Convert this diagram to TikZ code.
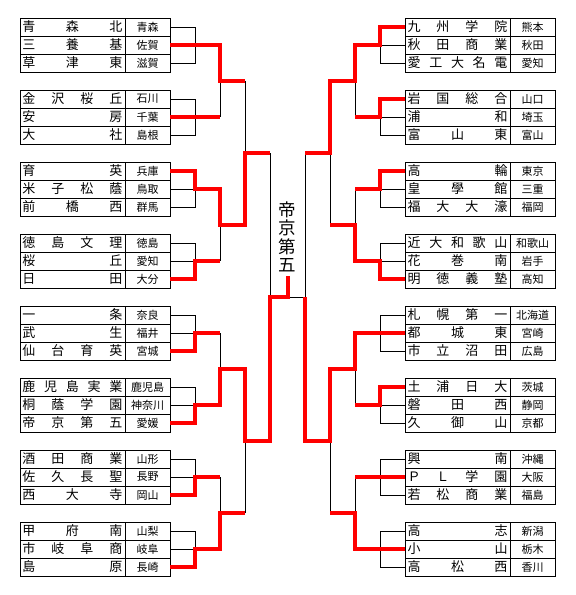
\documentclass[tikz,border=0pt]{standalone}
\usepackage{fontspec}
\newfontfamily\jpfont{Noto Sans CJK JP}
% Name gleichmaessig ueber die Zelle verteilen
\newcommand\spreadname[1]{\makebox[100pt]{\expandafter\spreadloop#1\relax}}
\def\spreadloop#1#2{#1\ifx#2\relax\else\hfill\expandafter\spreadloop\expandafter#2\fi}
\tikzset{
  namecell/.style={draw, line width=1pt, minimum width=105pt, minimum height=18pt, inner sep=0pt, outer sep=0pt, font=\jpfont\fontsize{13}{13}\selectfont},
  prefcell/.style={namecell, minimum width=45pt, font=\jpfont\fontsize{11}{11}\selectfont},
  wire/.style={line width=1pt},
  win/.style={draw=red, line width=4pt, line join=miter},
  champ/.style={align=center, inner sep=0pt, font=\jpfont\fontsize{17.5}{18.3}\selectfont}
}
\begin{document}
\begin{tikzpicture}[x=1pt, y=-1pt]
\useasboundingbox (0,0) rectangle (576,595);
% Tabelle links
\foreach \g/\r/\nm/\pf in {1/1/青森北/青森, 1/2/三養基/佐賀, 1/3/草津東/滋賀,
  2/1/金沢桜丘/石川, 2/2/安房/千葉, 2/3/大社/島根,
  3/1/育英/兵庫, 3/2/米子松蔭/鳥取, 3/3/前橋西/群馬,
  4/1/徳島文理/徳島, 4/2/桜丘/愛知, 4/3/日田/大分,
  5/1/一条/奈良, 5/2/武生/福井, 5/3/仙台育英/宮城,
  6/1/鹿児島実業/鹿児島, 6/2/桐蔭学園/神奈川, 6/3/帝京第五/愛媛,
  7/1/酒田商業/山形, 7/2/佐久長聖/長野, 7/3/西大寺/岡山,
  8/1/甲府南/山梨, 8/2/市岐阜商/岐阜, 8/3/島原/長崎}{
  \node[namecell] (Ln\g\r) at (72.5,{27+72*(\g-1)+18*(\r-1)}) {\spreadname{\nm}};
  \node[prefcell] (Lp\g\r) at (147.5,{27+72*(\g-1)+18*(\r-1)}) {\pf};
}
% Tabelle rechts
\foreach \g/\r/\nm/\pf in {1/1/九州学院/熊本, 1/2/秋田商業/秋田, 1/3/愛工大名電/愛知,
  2/1/岩国総合/山口, 2/2/浦和/埼玉, 2/3/富山東/富山,
  3/1/高輪/東京, 3/2/皇學館/三重, 3/3/福大大濠/福岡,
  4/1/近大和歌山/和歌山, 4/2/花巻南/岩手, 4/3/明徳義塾/高知,
  5/1/札幌第一/北海道, 5/2/都城東/宮崎, 5/3/市立沼田/広島,
  6/1/土浦日大/茨城, 6/2/磐田西/静岡, 6/3/久御山/京都,
  7/1/興南/沖縄, 7/2/ＰＬ学園/大阪, 7/3/若松商業/福島,
  8/1/高志/新潟, 8/2/小山/栃木, 8/3/高松西/香川}{
  \node[namecell] (Rn\g\r) at (457.5,{27+72*(\g-1)+18*(\r-1)}) {\spreadname{\nm}};
  \node[prefcell] (Rp\g\r) at (532.5,{27+72*(\g-1)+18*(\r-1)}) {\pf};
}
% Knotenpunkte der Runden
\foreach \g in {1,...,8}{
  \coordinate (Lw\g) at (220,{45+72*(\g-1)}); \coordinate (Rw\g) at (355,{45+72*(\g-1)});}
\foreach \p in {1,...,4}{
  \coordinate (Lq\p) at (245,{81+144*(\p-1)}); \coordinate (Rq\p) at (330,{81+144*(\p-1)});}
\foreach \h in {1,2}{
  \coordinate (Ls\h) at (270,{153+288*(\h-1)}); \coordinate (Rs\h) at (305,{153+288*(\h-1)});}
\coordinate (Lf) at (270,297); \coordinate (Rf) at (305,297);
\coordinate (Fm) at (287.5,297); \coordinate (Ft) at (287.5,276);
% Turnierbaum schwarz
\foreach \g in {1,...,8}{
  \draw[wire] (Lp\g1.east) -- ++(25,0) |- (Lp\g3.east); \draw[wire] (Lp\g2.east) -- (Lw\g);
  \draw[wire] (Rn\g1.west) -- ++(-25,0) |- (Rn\g3.west); \draw[wire] (Rn\g2.west) -- (Rw\g);}
\foreach \p/\ga/\gb in {1/1/2,2/3/4,3/5/6,4/7/8}{
  \draw[wire] (Lw\ga) -- (Lw\gb) (Lq\p) -- ++(-25,0);
  \draw[wire] (Rw\ga) -- (Rw\gb) (Rq\p) -- ++(25,0);}
\foreach \h/\ga/\gb in {1/1/2,2/3/4}{
  \draw[wire] (Lq\ga) -- (Lq\gb) (Ls\h) -- ++(-25,0);
  \draw[wire] (Rq\ga) -- (Rq\gb) (Rs\h) -- ++(25,0);}
\draw[wire] (Ls1) -- (Ls2) (Rs1) -- (Rs2) (Lf) -- (Rf);
% Siegerwege links
\draw[win] (Lp12.east) -- (Lw1) |- (Lq1);
\draw[win] (Lp22.east) -- (Lw2);
\draw[win] (Lp31.east) -- ++(25,0) |- (Lw3) |- (Lq2) |- (Ls1);
\draw[win] (Lp43.east) -- ++(25,0) |- (Lw4);
\draw[win] (Lp53.east) -- ++(25,0) |- (Lw5);
\draw[win] (Lp63.east) -- ++(25,0) |- (Lw6) |- (Lq3) |- (Ls2) -- (Lf) -- (Fm) -- (Ft);
\draw[win] (Lp73.east) -- ++(25,0) |- (Lw7);
\draw[win] (Lp83.east) -- ++(25,0) |- (Lw8) |- (Lq4);
% Siegerwege rechts
\draw[win] (Rn11.west) -- ++(-25,0) |- (Rw1) |- (Rq1) |- (Rs1);
\draw[win] (Rn21.west) -- ++(-25,0) |- (Rw2);
\draw[win] (Rn31.west) -- ++(-25,0) |- (Rw3);
\draw[win] (Rn43.west) -- ++(-25,0) |- (Rw4) |- (Rq2);
\draw[win] (Rn52.west) -- (Rw5) |- (Rq3) |- (Rs2) -- (Rf);
\draw[win] (Rn61.west) -- ++(-25,0) |- (Rw6);
\draw[win] (Rn72.west) -- (Rw7);
\draw[win] (Rn82.west) -- (Rw8) |- (Rq4);
% Sieger
\node[champ] (champion) at (287.5,237) {帝\\京\\第\\五};
\end{tikzpicture}
\end{document}
